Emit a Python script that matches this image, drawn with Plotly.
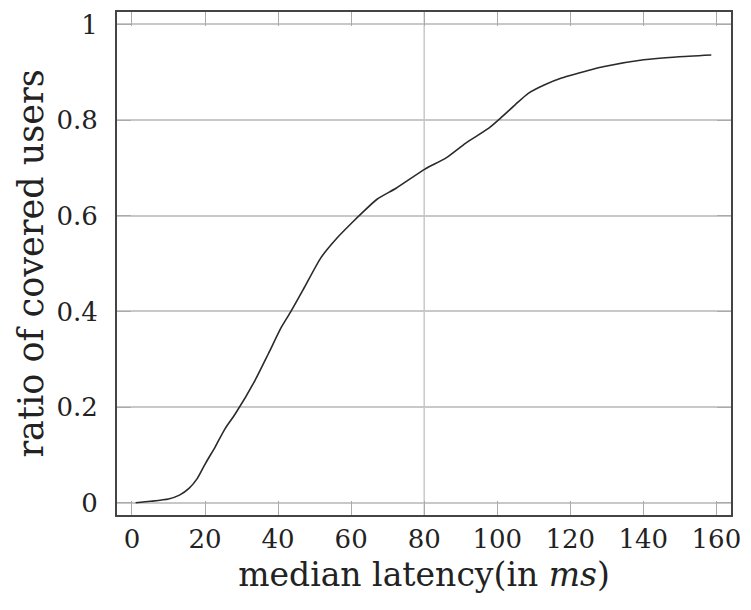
import plotly.graph_objects as go

latency_ms = [1, 5, 10, 13, 15.6, 17.9, 20.1, 22.8, 25.5, 28.3, 33.7, 37.3, 40.9, 43.6,
              47.2, 51.7, 56.2, 60.7, 63, 67, 72.4, 80.1, 86, 91.4, 97.7, 100.9, 104.9,
              108.5, 113, 117.6, 121.2, 129.3, 140.1, 149.1, 158.6]
covered_ratio = [0.0, 0.003, 0.008, 0.016, 0.030, 0.051, 0.082, 0.117, 0.155, 0.186, 0.256,
                 0.311, 0.367, 0.401, 0.450, 0.512, 0.554, 0.589, 0.606, 0.634, 0.658,
                 0.697, 0.721, 0.752, 0.783, 0.804, 0.832, 0.856, 0.874, 0.888, 0.896,
                 0.912, 0.926, 0.932, 0.936]
x_ticks = [0, 20, 40, 60, 80, 100, 120, 140, 160]
y_ticks = [0, 0.2, 0.4, 0.6, 0.8, 1]
y_tick_labels = ["0", "0.2", "0.4", "0.6", "0.8", "1"]

FONT = "DejaVu Serif, Liberation Serif, serif"

fig = go.Figure()
fig.add_trace(go.Scatter(x=latency_ms, y=covered_ratio, mode="lines",
                         line=dict(color="#2a2a2a", width=1.6, shape="spline", smoothing=0.6),
                         showlegend=False, hoverinfo="skip"))

fig.add_vline(x=80, line=dict(color="#c8c8c8", width=1.5), layer="below")

fig.update_layout(
    width=751, height=610,
    margin=dict(l=117, r=13, t=10, b=95),
    paper_bgcolor="white", plot_bgcolor="white",
    font=dict(family=FONT, color="#222", size=24),
)
fig.update_xaxes(
    range=[-4.1, 164], tickvals=x_ticks, showgrid=False, zeroline=False,
    ticks="inside", ticklen=14, tickcolor="#aaa", tickwidth=1.2,
    showline=True, linecolor="#444", linewidth=2, mirror="ticks",
    tickfont=dict(family=FONT, size=26, color="#222"), ticklabelstandoff=0,
    title=dict(text="median latency(in <i>ms</i>)", font=dict(family=FONT, size=33, color="#222"), standoff=10),
)
fig.update_yaxes(
    range=[-0.0256, 1.026], tickvals=y_ticks, ticktext=y_tick_labels,
    showgrid=True, gridcolor="#c8c8c8", gridwidth=1.5, zeroline=False,
    ticks="inside", ticklen=14, tickcolor="#aaa", tickwidth=1.2,
    showline=True, linecolor="#444", linewidth=2, mirror="ticks",
    tickfont=dict(family=FONT, size=26, color="#222"), ticklabelstandoff=12,
    title=dict(text="ratio of covered users", font=dict(family=FONT, size=35, color="#222"), standoff=2),
)

fig.write_html("out.html")
